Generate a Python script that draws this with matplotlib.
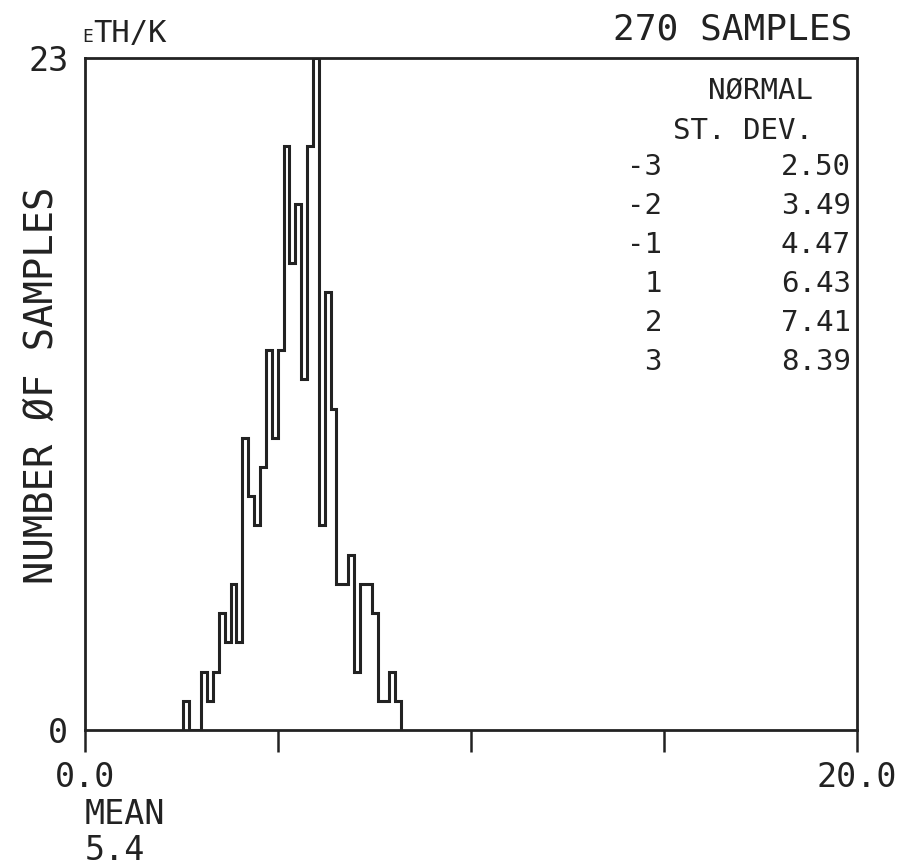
import numpy as np
import matplotlib
matplotlib.use("Agg")
import matplotlib.pyplot as plt

plt.rcParams["font.family"] = ["DejaVu Sans Mono", "DejaVu Sans"]

# histogram data (counts per bin, starting at bin_lo, bins of bin_width)
bin_lo = 2.55
bin_width = 0.1525
counts = [1, 0, 0, 2, 1, 2, 4, 3, 5, 3, 10, 8, 7, 9, 13, 10, 13, 20, 16, 18,
          12, 20, 23, 7, 15, 11, 5, 5, 6, 2, 5, 5, 4, 1, 1, 2, 1]

n_samples = 270
mean_value = 5.4
sd_levels = ["-3", "-2", "-1", "1", "2", "3"]
sd_values = ["2.50", "3.49", "4.47", "6.43", "7.41", "8.39"]

x_min, x_max = 0.0, 20.0
y_max = 23

fig = plt.figure(figsize=(9.01, 8.67), dpi=100)
ax = fig.add_axes([85 / 901, 1 - 730 / 867, 772 / 901, 672 / 867])

edges = bin_lo + bin_width * np.arange(len(counts) + 1)
ax.stairs(counts, edges, baseline=0, color="#222222", lw=2.2)

ax.set_xlim(x_min, x_max)
ax.set_ylim(0, y_max)
for s in ax.spines.values():
    s.set_linewidth(2.0)
    s.set_color("#222222")

ax.set_xticks([0, 5, 10, 15, 20])
ax.set_xticklabels(["0.0", "", "", "", "20.0"], fontsize=24)
ax.tick_params(axis="x", direction="out", length=16, width=1.8, pad=6,
               colors="#222222")
ax.set_yticks([0, y_max])
ax.set_yticklabels(["0", str(y_max)], fontsize=24)
ax.tick_params(axis="y", length=0, pad=12, colors="#222222")

fig.text(42 / 901, 1 - 385 / 867, "NUMBER ØF SAMPLES", rotation=90,
         ha="center", va="center", fontsize=28, color="#222222")

# header texts
fig.text(82 / 901, 1 - 42 / 867, "E", fontsize=13, ha="left",
         va="baseline", color="#222222")
fig.text(93 / 901, 1 - 42 / 867, "TH/K", fontsize=22, ha="left",
         va="baseline", color="#222222")
fig.text(852 / 901, 1 - 30 / 867, f"{n_samples} SAMPLES", fontsize=26,
         ha="right", va="center", color="#222222")

# normal deviation table
fig.text(813 / 901, 1 - 91 / 867, "NØRMAL", fontsize=21, ha="right",
         va="center", color="#222222")
fig.text(813 / 901, 1 - 131 / 867, "ST. DEV.", fontsize=21, ha="right",
         va="center", color="#222222")
for i, (lvl, val) in enumerate(zip(sd_levels, sd_values)):
    yy = 1 - (167 + 39 * i) / 867
    fig.text(662 / 901, yy, lvl, fontsize=21, ha="right", va="center",
             color="#222222")
    fig.text(851 / 901, yy, val, fontsize=21, ha="right", va="center",
             color="#222222")

# mean
fig.text(85 / 901, 1 - 815 / 867, "MEAN", fontsize=24, ha="left",
         va="center", color="#222222")
fig.text(85 / 901, 1 - 851 / 867, f"{mean_value}", fontsize=24, ha="left",
         va="center", color="#222222")

fig.savefig("out.png", dpi=100)
